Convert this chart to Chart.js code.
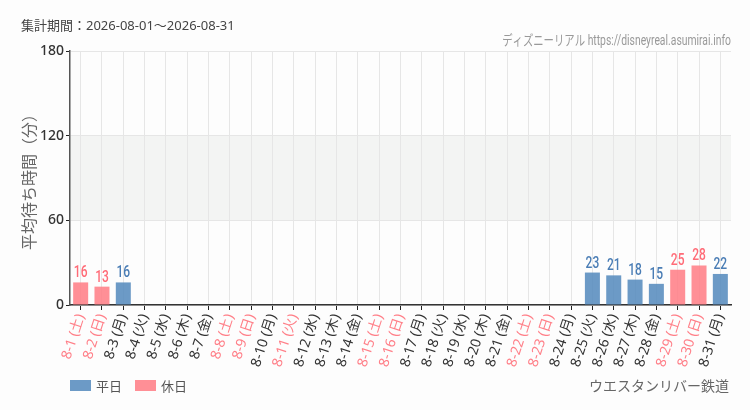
<!DOCTYPE html>
<html>
<head>
<meta charset="utf-8">
<script src="https://cdn.jsdelivr.net/npm/chart.js@4/dist/chart.umd.min.js"></script>
<style>
html,body{margin:0;padding:0;background:#fdfdfd;}
#wrap{width:750px;height:410px;position:relative;}
</style>
</head>
<body>
<div id="wrap"><canvas id="c" width="750" height="410"></canvas></div>
<script>
const categories = ["8-1 (土)","8-2 (日)","8-3 (月)","8-4 (火)","8-5 (水)","8-6 (木)","8-7 (金)","8-8 (土)","8-9 (日)","8-10 (月)","8-11 (火)","8-12 (水)","8-13 (木)","8-14 (金)","8-15 (土)","8-16 (日)","8-17 (月)","8-18 (火)","8-19 (水)","8-20 (木)","8-21 (金)","8-22 (土)","8-23 (日)","8-24 (月)","8-25 (火)","8-26 (水)","8-27 (木)","8-28 (金)","8-29 (土)","8-30 (日)","8-31 (月)"];
const holidayFlags = [1,1,0,0,0,0,0,1,1,0,1,0,0,0,1,1,0,0,0,0,0,1,1,0,0,0,0,0,1,1,0];
const weekdayValues = [null,null,16,null,null,null,null,null,null,null,null,null,null,null,null,null,null,null,null,null,null,null,null,null,23,21,18,15,null,null,22];
const holidayValues = [16,13,null,null,null,null,null,null,null,null,null,null,null,null,null,null,null,null,null,null,null,null,null,null,null,null,null,null,25,28,null];
const yTicks = [0,60,120,180];
const seriesNames = ["平日","休日"];
const titleText = "集計期間：2026-08-01～2026-08-31";
const siteText = "ディズニーリアル https://disneyreal.asumirai.info";
const attractionText = "ウエスタンリバー鉄道";
const yTitle = "平均待ち時間（分）";

const BLUE = "rgba(88,140,190,0.88)";
const PINK = "rgba(255,128,135,0.88)";
const BLUE_T = "#4a7db5";
const PINK_T = "#ff6b77";
const JP = "'Noto Sans','Noto Sans CJK JP',sans-serif";
const NARROW = "'Roboto','Noto Sans CJK JP',sans-serif";

function narrowText(ctx, t, x, y, sx) {
  ctx.save();
  ctx.translate(x, y);
  ctx.scale(sx, 1);
  ctx.fillText(t, 0, 0);
  ctx.restore();
}

const bgPlugin = {
  id: 'bg',
  beforeDraw(chart) {
    const ctx = chart.ctx, a = chart.chartArea, y = chart.scales.y;
    ctx.save();
    ctx.fillStyle = '#fdfdfd';
    ctx.fillRect(0, 0, chart.width, chart.height);
    const y1 = y.getPixelForValue(120), y0 = y.getPixelForValue(60);
    ctx.fillStyle = '#f3f4f3';
    ctx.fillRect(a.left, y1, a.right - a.left, y0 - y1);
    ctx.restore();
  }
};

const labelPlugin = {
  id: 'vlabels',
  afterDatasetsDraw(chart) {
    const ctx = chart.ctx;
    ctx.save();
    ctx.font = "500 16px " + NARROW;
    ctx.textAlign = 'center';
    ctx.textBaseline = 'bottom';
    chart.data.datasets.forEach((ds, di) => {
      const meta = chart.getDatasetMeta(di);
      meta.data.forEach((el, i) => {
        const v = ds.data[i];
        if (v === null || v === undefined) return;
        ctx.fillStyle = di === 0 ? BLUE_T : PINK_T;
        narrowText(ctx, String(v), el.x, el.y - 1, 0.75);
      });
    });
    ctx.restore();
  }
};

const textPlugin = {
  id: 'texts',
  afterDraw(chart) {
    const ctx = chart.ctx, a = chart.chartArea;
    ctx.save();
    ctx.textBaseline = 'alphabetic';
    ctx.fillStyle = '#444';
    ctx.font = "13px " + JP;
    ctx.textAlign = 'left';
    ctx.fillText(titleText, 21, 30);
    ctx.fillStyle = '#999';
    ctx.font = "14px " + NARROW;
    ctx.textAlign = 'right';
    narrowText(ctx, siteText, a.right, 45, 0.74);
    ctx.fillStyle = '#666';
    ctx.font = "14px " + JP;
    ctx.fillText(attractionText, a.right - 2, 391);
    // legend
    ctx.textAlign = 'left';
    ctx.font = "13px " + JP;
    const colors = [BLUE, PINK];
    let x = a.left;
    seriesNames.forEach((n, i) => {
      ctx.fillStyle = colors[i];
      ctx.fillRect(x, 380, 21, 11);
      ctx.fillStyle = '#555';
      ctx.fillText(n, x + 26, 391);
      x += 65;
    });
    ctx.restore();
  }
};

new Chart(document.getElementById('c'), {
  type: 'bar',
  data: {
    labels: categories,
    datasets: [
      { label: seriesNames[0], data: weekdayValues, backgroundColor: BLUE, borderWidth: 0, categoryPercentage: 0.8, barPercentage: 0.88 },
      { label: seriesNames[1], data: holidayValues, backgroundColor: PINK, borderWidth: 0, categoryPercentage: 0.8, barPercentage: 0.88 }
    ]
  },
  options: {
    responsive: false,
    animation: false,
    devicePixelRatio: 1,
    layout: { padding: { top: 51, right: 19, left: 0, bottom: 0 } },
    plugins: { legend: { display: false }, tooltip: { enabled: false }, title: { display: false } },
    scales: {
      x: {
        stacked: true,
        offset: true,
        grid: { offset: false, color: '#e6e6e6', tickColor: '#222', tickLength: 5, drawOnChartArea: true },
        border: { color: '#333', width: 1.5 },
        ticks: {
          autoSkip: false, minRotation: 72, maxRotation: 72, padding: 2,
          font: { size: 14, family: JP },
          color: (c) => holidayFlags[c.index] ? '#ff7f88' : '#333'
        },
        afterFit(s) { s.height = 105; }
      },
      y: {
        stacked: true,
        min: 0, max: 180,
        afterBuildTicks(s) { s.ticks = yTicks.map(v => ({ value: v })); },
        grid: { color: '#e6e6e6', tickColor: '#222', tickLength: 4 },
        border: { color: '#555', width: 1.5 },
        ticks: { padding: 2, font: { size: 14, family: JP, weight: '500' }, color: '#333' },
        title: { display: true, text: yTitle, color: '#666', font: { size: 16, family: JP }, padding: { top: 21, bottom: 0 } },
        afterFit(s) { s.width = 70; }
      }
    }
  },
  plugins: [bgPlugin, labelPlugin, textPlugin]
});
</script>
</body>
</html>
